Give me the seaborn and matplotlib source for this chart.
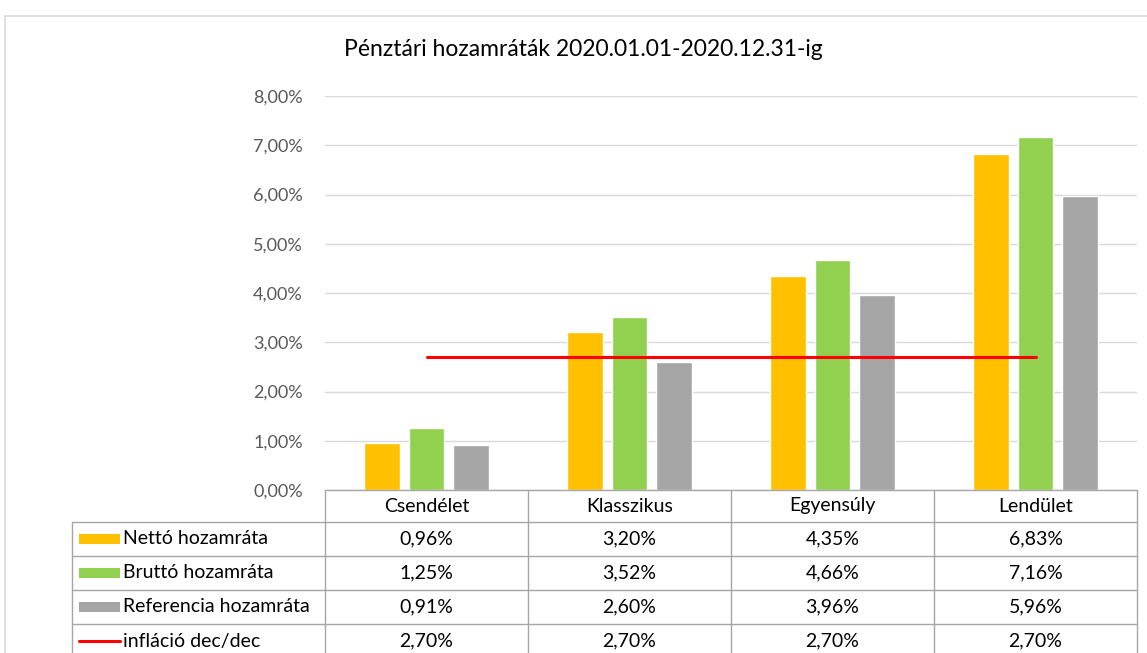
import matplotlib
matplotlib.use("Agg")
import matplotlib.pyplot as plt
import seaborn as sns
import pandas as pd
from matplotlib.lines import Line2D
from matplotlib.patches import Rectangle

categories = ["Csendélet", "Klasszikus", "Egyensúly", "Lendület"]
series_names = ["Nettó hozamráta", "Bruttó hozamráta", "Referencia hozamráta"]
netto = [0.96, 3.20, 4.35, 6.83]
brutto = [1.25, 3.52, 4.66, 7.16]
referencia = [0.91, 2.60, 3.96, 5.96]
inflacio = [2.70, 2.70, 2.70, 2.70]
inflacio_name = "infláció dec/dec"
title = "Pénztári hozamráták 2020.01.01-2020.12.31-ig"
yticks = [0, 1, 2, 3, 4, 5, 6, 7, 8]

colors = ["#FFC000", "#92D050", "#A5A5A5"]
red = "#FF0000"

sns.set_theme(style="white")
plt.rcParams["font.family"] = ["Lato", "DejaVu Sans"]

W, H = 1147, 653
fig = plt.figure(figsize=(W / 100, H / 100), dpi=100)

def fx(px):
    return px / W

def fy(py):
    return 1 - py / H

# plot area in pixels
L, R, T, B = 325, 1137, 96, 490
ax = fig.add_axes([fx(L), fy(B), fx(R) - fx(L), (B - T) / H])

df = pd.DataFrame({
    "cat": categories * 3,
    "series": sum([[s] * 4 for s in series_names], []),
    "val": netto + brutto + referencia,
})
sns.barplot(data=df, x="cat", y="val", hue="series", order=categories,
            hue_order=series_names, palette=colors, width=0.665, gap=0.2,
            saturation=1, legend=False, ax=ax, zorder=3)
ax.plot(range(len(categories)), inflacio, color=red, lw=2.2, zorder=4)

ax.set_xlim(-0.5, len(categories) - 0.5)
ax.set_ylim(0, 8)
ax.set_yticks(yticks)
ax.set_yticklabels([f"{v:.2f}".replace(".", ",") + "%" for v in yticks],
                   color="#595959", fontsize=13)
ax.tick_params(axis="y", length=0, pad=16)
ax.set_xticks([])
ax.set_xlabel("")
ax.set_ylabel("")
ax.grid(axis="y", color="#D9D9D9", lw=1, zorder=0)
for s in ax.spines.values():
    s.set_visible(False)

# chart border
fig.patches.append(Rectangle((fx(5), fy(660)), fx(1160) - fx(5), fy(16) - fy(660),
                             transform=fig.transFigure, fill=False,
                             edgecolor="#D9D9D9", lw=1.2))

# title
fig.text(fx(583), fy(50), title, ha="center", va="center", fontsize=16.5, color="#000000")

# data table
gc = "#A6A6A6"
col_edges = [325, 528, 731, 934, 1137]
row_edges = [490, 522, 556, 590, 624, 658]
leg_left = 72

def hline(y, x0, x1):
    fig.add_artist(Line2D([fx(x0), fx(x1)], [fy(y), fy(y)], color=gc, lw=1,
                          transform=fig.transFigure))

def vline(x, y0, y1):
    fig.add_artist(Line2D([fx(x), fx(x)], [fy(y0), fy(y1)], color=gc, lw=1,
                          transform=fig.transFigure))

hline(row_edges[0], col_edges[0], col_edges[-1])
for y in row_edges[1:]:
    hline(y, leg_left, col_edges[-1])
for x in col_edges:
    vline(x, row_edges[0], row_edges[-1])
vline(leg_left, row_edges[1], row_edges[-1])

fs = 14
for i, c in enumerate(categories):
    cx = (col_edges[i] + col_edges[i + 1]) / 2
    fig.text(fx(cx), fy((row_edges[0] + row_edges[1]) / 2), c,
             ha="center", va="center", fontsize=fs, color="#000000")

rows = [netto, brutto, referencia, inflacio]
names = series_names + [inflacio_name]
for r, (vals, name) in enumerate(zip(rows, names)):
    cy = (row_edges[r + 1] + row_edges[r + 2]) / 2
    if r < 3:
        fig.patches.append(Rectangle((fx(79), fy(cy + 5)), fx(120) - fx(79), 10 / H,
                                     transform=fig.transFigure, color=colors[r], lw=0))
    else:
        fig.add_artist(Line2D([fx(79), fx(120)], [fy(cy), fy(cy)], color=red, lw=2.2,
                              transform=fig.transFigure))
    fig.text(fx(123), fy(cy), name, ha="left", va="center", fontsize=fs, color="#000000")
    for i, v in enumerate(vals):
        cx = (col_edges[i] + col_edges[i + 1]) / 2
        fig.text(fx(cx), fy(cy), f"{v:.2f}".replace(".", ",") + "%",
                 ha="center", va="center", fontsize=fs, color="#000000")

fig.savefig("out.png", dpi=100)
